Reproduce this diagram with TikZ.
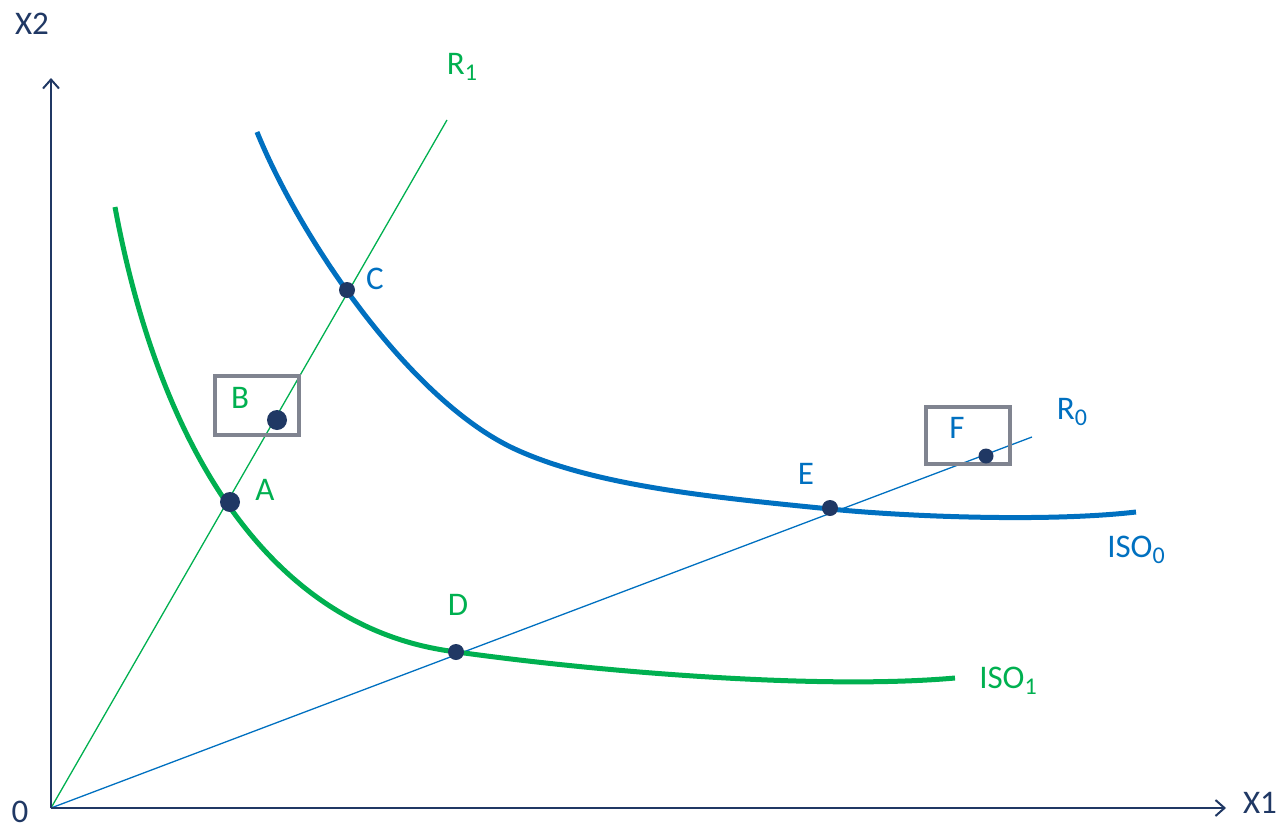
\documentclass[tikz,border=0pt]{standalone}
\usepackage{fontspec}
\setmainfont{Carlito}
\usetikzlibrary{arrows.meta}
\definecolor{cgreen}{HTML}{00B050}
\definecolor{cblue}{HTML}{0070C0}
\definecolor{cnavy}{HTML}{203864}
\definecolor{cgray}{HTML}{808490}
\newcommand{\sbs}[1]{{\fontsize{24}{24}\selectfont\raisebox{-0.25em}{#1}}}
\begin{document}
\begin{tikzpicture}[x=1pt,y=-1pt,
  lbl/.style={font=\fontsize{33}{36}\selectfont, inner sep=0pt},
  axis/.style={draw=cnavy, line width=2pt, -{Straight Barb[length=9pt,width=16pt,line width=2pt]}},
  ray/.style={line width=1.3pt},
  iso/.style={line width=5pt},
  dot/.style={circle, fill=cnavy, inner sep=0pt, minimum size=#1},
  frame/.style={draw=cgray, line width=3.5pt}]
\useasboundingbox (0,0) rectangle (1278,830);
\coordinate (O) at (51,808);
\coordinate (Ytop) at (51,78);
\coordinate (Xend) at (1226,808);
\coordinate (R1end) at (447,120);
\coordinate (R0end) at (1032,437);
% rays
\draw[ray, cgreen] (O) -- (R1end);
\draw[ray, cblue] (O) -- (R0end);
% axes
\draw[axis] (O) -- (Ytop);
\draw[axis] (O) -- (Xend);
% isoquants
\draw[iso, cgreen] (115,207) .. controls (160,450) and (272,630) .. (457,652)
  .. controls (600,672) and (820,690) .. (955,678);
\draw[iso, cblue] (257,132) .. controls (299,236) and (410,402) .. (517,450)
  .. controls (597,486) and (710,497) .. (830,509)
  .. controls (910,517) and (1050,522) .. (1136,512);
% boxes
\draw[frame] (215,376) rectangle (299,435);
\draw[frame] (926,407) rectangle (1010,464);
% dots
\node[dot=20pt] (A) at (230,502) {};
\node[dot=20pt] (B) at (277,420) {};
\node[dot=16pt] (C) at (347,290) {};
\node[dot=16pt] (D) at (456,652) {};
\node[dot=16pt] (E) at (830,508) {};
\node[dot=15pt] (F) at (986,456) {};
% labels
\node[lbl, text=cnavy] (lX2) at (32,24) {X2};
\node[lbl, text=cnavy] (lX1) at (1260,803) {X1};
\node[lbl, text=cnavy] (l0) at (20,812) {0};
\node[lbl, text=cgreen] (lR1) at (462,67) {R\sbs{1}};
\node[lbl, text=cblue] (lR0) at (1072,412) {R\sbs{0}};
\node[lbl, text=cblue] (lC) at (375,279) {C};
\node[lbl, text=cgreen] (lB) at (240,398) {B};
\node[lbl, text=cgreen] (lA) at (265,490) {A};
\node[lbl, text=cgreen] (lD) at (458,605) {D};
\node[lbl, text=cblue] (lE) at (806,474) {E};
\node[lbl, text=cblue] (lF) at (957,428) {F};
\node[lbl, text=cblue] (lISO0) at (1136,550) {ISO\sbs{0}};
\node[lbl, text=cgreen] (lISO1) at (1008,681) {ISO\sbs{1}};
\end{tikzpicture}
\end{document}
